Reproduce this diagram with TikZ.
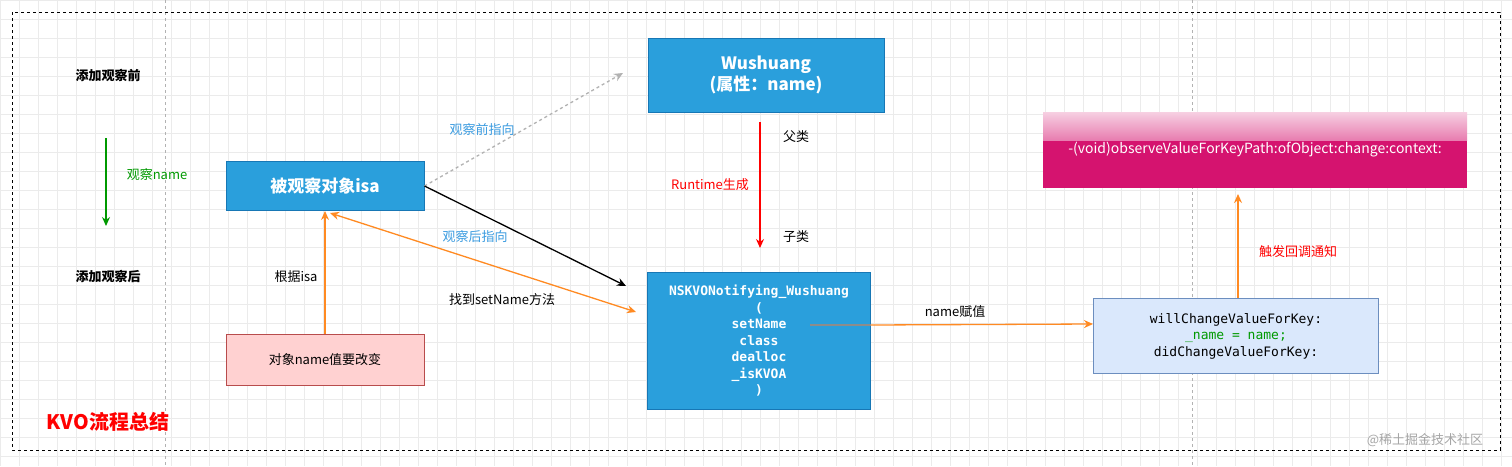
\documentclass[tikz,border=0pt]{standalone}
\usepackage{fontspec}
\setmainfont{Noto Sans CJK SC}
\newfontfamily\codefont{DejaVu Sans Mono}
\usetikzlibrary{arrows.meta}
\definecolor{bluebox}{HTML}{2A9FDC}
\definecolor{blueedge}{HTML}{1777B5}
\definecolor{orng}{HTML}{FF8A22}
\definecolor{lblue}{HTML}{3A9BE0}
\definecolor{pink}{HTML}{D5136F}
\definecolor{wfill}{HTML}{DAE8FC}
\definecolor{wedge}{HTML}{6C8EBF}
\begin{document}
\begin{tikzpicture}[x=1pt,y=-1pt,
 blue/.style={draw=blueedge,fill=bluebox,text=white,font=\bfseries,line width=1pt,inner sep=0pt,align=center},
 lbl/.style={font=\fontsize{13}{15}\selectfont},
 oarr/.style={draw=orng,line width=1.3pt,-{Stealth[length=9pt,width=8pt]}},
 ]
\useasboundingbox (0,0) rectangle (1512,466);
\fill[white] (0,0) rectangle (1512,466);
\foreach \i in {0,19,...,1512} \draw[black!8,line width=0.6pt] (\i,0)--(\i,466);
\foreach \j in {0,19,...,466} \draw[black!8,line width=0.6pt] (0,\j)--(1512,\j);
\draw[black!30,dashed,line width=1pt] (165,0)--(165,466) (1192,0)--(1192,466);
\draw[black,dashed,line width=1pt] (12,12) rectangle (1500,450);
% nodes
\node[blue,minimum width=236,minimum height=74,font=\bfseries\fontsize{17}{21}\selectfont] (wu) at (766,75) {Wushuang\\(属性：name)};
\node[blue,minimum width=198,minimum height=49,font=\bfseries\fontsize{17}{20}\selectfont] (isa) at (325,186) {被观察对象isa};
\node[blue,minimum width=223,minimum height=137,font=\codefont\bfseries\fontsize{13}{16.5}\selectfont] (ns) at (759,341) {NSKVONotifying\_Wushuang\\(\\setName\\class\\dealloc\\\_isKVOA\\)};
\node[draw=red!60!black!70,fill=red!18!white,line width=1pt,minimum width=198,minimum height=51,inner sep=0pt,lbl] (obj) at (325,360) {对象name值要改变};
\node[draw=wedge,fill=wfill,line width=1pt,minimum width=285,minimum height=75,inner sep=0pt,align=center,font=\codefont\fontsize{13}{16.5}\selectfont] (will) at (1236,336) {willChangeValueForKey:\\\textcolor{green!60!black}{\_name = name;}\\didChangeValueForKey:};
\node[fill=pink,minimum width=424,minimum height=75,inner sep=0pt] (ob) at (1255,150) {};
\fill[top color=pink!20!white,bottom color=pink!55!white] (1043,112) rectangle (1467,140);
\node[text=white,font=\fontsize{14}{16}\selectfont] at (ob) {-(void)observeValueForKeyPath:ofObject:change:context:};
% labels
\node[font=\bfseries\fontsize{13}{15}\selectfont] (l1) at (108,75) {添加观察前};
\node[font=\bfseries\fontsize{13}{15}\selectfont] (l2) at (108,277) {添加观察后};
\coordinate (g1) at (106,138); \coordinate (g2) at (106,226);
\draw[green!60!black,line width=1.3pt,-{Stealth[length=9pt,width=8pt]}] (g1)--(g2);
\node[lbl,text=green!60!black] at (157,175) {观察name};
\node[text=red,font=\bfseries\fontsize{20}{24}\selectfont] at (108,422) {KVO流程总结};
% arrows
\coordinate (gp) at (623,73);
\draw[black!30,dashed,line width=1.3pt,-{Stealth[length=9pt,width=8pt]}] (isa.east) -- (gp);
\node[lbl,text=lblue] at (482,130) {观察前指向};
\draw[black,line width=1.3pt,-{Stealth[length=9pt,width=8pt]}] (isa.east) -- (626,286);
\draw[oarr,{Stealth[length=9pt,width=8pt]}-{Stealth[length=9pt,width=8pt]}] (330,213) -- (636,312);
\node[lbl,text=lblue] at (475,237) {观察后指向};
\node[lbl] at (502,300) {找到setName方法};
\draw[oarr] (obj.north) -- (isa.south);
\node[lbl] at (296,277) {根据isa};
\draw[red,line width=1.3pt,-{Stealth[length=9pt,width=8pt]}] (760,122) -- (760,248);
\node[lbl] at (796,137) {父类};
\node[lbl,text=red] at (710,185) {Runtime生成};
\node[lbl] at (796,237) {子类};
\draw[black!45,line width=1.3pt] (810,325) -- (ns.east|-0,325);
\draw[oarr] (ns.east|-0,325) -- (will.west|-0,324);
\node[lbl] at (955,312) {name赋值};
\draw[oarr] (will.north-|1238,0) -- (1238,194);
\node[lbl,text=red] at (1298,252) {触发回调通知};
\node[lbl,text=black!35] at (1425,440) {@稀土掘金技术社区};
\end{tikzpicture}
\end{document}
